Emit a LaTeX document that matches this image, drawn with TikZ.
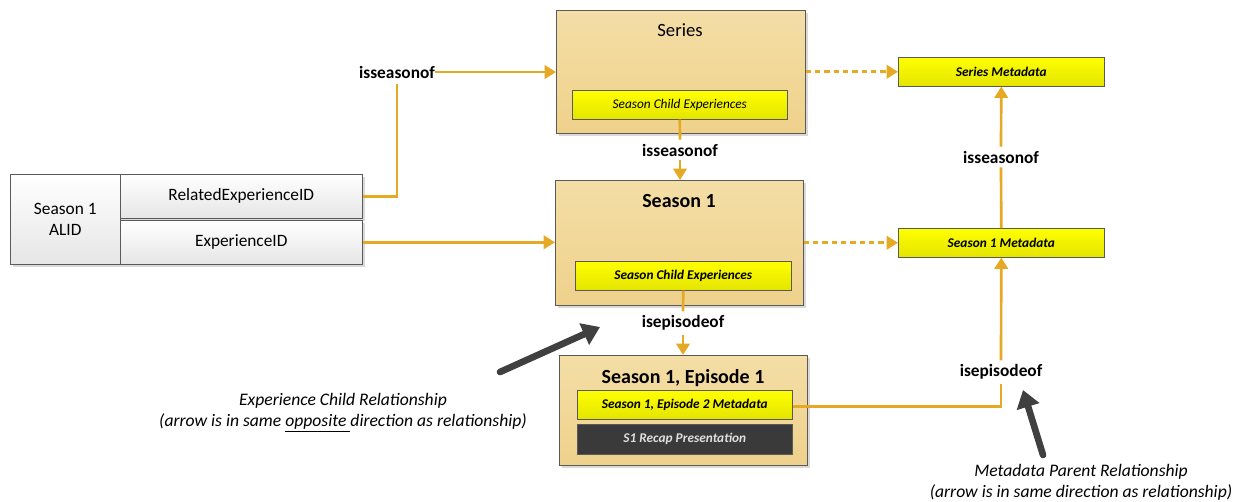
\documentclass[tikz,border=0pt]{standalone}
\usepackage{fontspec}
\setmainfont{Carlito}
\usetikzlibrary{arrows.meta,shadows,positioning}
\definecolor{linegold}{HTML}{E6A923}
\definecolor{tantop}{HTML}{F4DEA6}
\definecolor{tanbot}{HTML}{EFD18B}
\definecolor{yeltop}{HTML}{FFFF00}
\definecolor{yelbot}{HTML}{E4E400}
\definecolor{boxline}{HTML}{5A5A5A}
\definecolor{darkfill}{HTML}{3A3A3A}
\definecolor{pointer}{HTML}{404040}
\newcommand{\pxu}{0.75pt}
\newcommand{\fsz}[1]{\fontsize{#1}{1.2\dimexpr #1pt\relax}\selectfont}

\tikzset{
  boxshadow/.style={drop shadow={shadow xshift=2pt,shadow yshift=-2pt,fill=black!25,opacity=.6}},
  idbox/.style={draw=boxline,top color=white,bottom color=black!10,anchor=north west,font=\fsz{13},boxshadow},
  tanbox/.style={draw=boxline,top color=tantop,bottom color=tanbot,anchor=north west,boxshadow},
  childbox/.style={draw=boxline,top color=yeltop,bottom color=yelbot,anchor=north west,font=\fsz{10}\itshape},
  metabox/.style={childbox,font=\fsz{10}\bfseries\itshape},
  darkbox/.style={draw=boxline,fill=darkfill,text=black!12,anchor=north west,font=\fsz{10}\bfseries\itshape},
  title/.style={font=\fsz{14}},
  boldtitle/.style={font=\fsz{15}\bfseries},
  rel/.style={font=\fsz{13}\bfseries},
  note/.style={align=center,font=\fsz{13.2}\itshape},
  flow/.style={draw=linegold,line width=2pt},
  tipgold/.style={-{Triangle[length=8.5pt,width=10pt]}},
  dashflow/.style={flow,dash pattern=on 4pt off 3pt,tipgold},
  bigarrow/.style={draw=pointer,line width=5pt,line cap=round,-{Triangle[length=13pt,width=17pt]}}
}

\begin{document}
\begin{tikzpicture}[x=0.75pt,y=-0.75pt,inner sep=0pt]
\useasboundingbox (0,0) rectangle (1244,501);

% left id block
\node[idbox,minimum width=110*\pxu,minimum height=90*\pxu,align=center] (alid) at (10,174) {Season 1\\ALID};
\node[idbox,minimum width=242*\pxu,minimum height=44*\pxu] (relid) at (120,174) {RelatedExperienceID};
\node[idbox,minimum width=242*\pxu,minimum height=44*\pxu] (expid) at (120,220) {ExperienceID};

% experiences
\node[tanbox,minimum width=249*\pxu,minimum height=123*\pxu] (series) at (556,10) {};
\node[title] (seriestitle) at (680,30) {Series};
\node[childbox,minimum width=215*\pxu,minimum height=29*\pxu] (serieschild) at (572,90) {Season Child Experiences};

\node[tanbox,minimum width=248*\pxu,minimum height=125*\pxu] (season) at (555,180) {};
\node[boldtitle] (seasontitle) at (679,201) {Season 1};
\node[metabox,minimum width=216*\pxu,minimum height=29*\pxu] (seasonchild) at (575,261) {Season Child Experiences};

\node[tanbox,minimum width=248*\pxu,minimum height=110*\pxu] (episode) at (559,355) {};
\node[boldtitle] (episodetitle) at (683,378) {Season 1, Episode 1};
\node[metabox,minimum width=215*\pxu,minimum height=29*\pxu] (episodemeta) at (577,390) {Season 1, Episode 2 Metadata};
\node[darkbox,minimum width=215*\pxu,minimum height=30*\pxu] (recap) at (577,424) {S1 Recap Presentation};

% metadata
\node[metabox,minimum width=206*\pxu,minimum height=29*\pxu] (seriesmeta) at (898,57) {Series Metadata};
\node[metabox,minimum width=206*\pxu,minimum height=29*\pxu] (seasonmeta) at (898,228) {Season 1 Metadata};

% relationships
\node[rel] (isseasonA) at (397,72) {isseasonof};
\draw[flow] (relid.east) -| ([yshift=-4pt]isseasonA.south);
\draw[flow,tipgold] (isseasonA.east) -- (isseasonA.east -| series.west);
\draw[flow,tipgold] (expid.east) -- (expid.east -| season.west);

\node[rel] (isseasonB) at (680,150) {isseasonof};
\draw[flow] (serieschild.south) -- ([yshift=3pt]isseasonB.north);
\draw[flow,tipgold] ([yshift=-3pt]isseasonB.south) -- (isseasonB.south |- season.north);

\node[rel] (isepisodeA) at (683,323) {isepisodeof};
\draw[flow] (seasonchild.south) -- ([yshift=3pt]isepisodeA.north);
\draw[flow,tipgold] ([yshift=-3pt]isepisodeA.south) -- (isepisodeA.south |- episode.north);

\draw[dashflow] (series.east |- seriesmeta.west) -- (seriesmeta.west);
\draw[dashflow] (season.east |- seasonmeta.west) -- (seasonmeta.west);

\node[rel] (isseasonC) at (1001,157) {isseasonof};
\draw[flow] (seasonmeta.north) -- ([yshift=-3pt]isseasonC.south);
\draw[flow,tipgold] ([yshift=3pt]isseasonC.north) -- (seriesmeta.south);

\node[rel] (isepisodeB) at (1001,372) {isepisodeof};
\draw[flow] ([yshift=-1.5pt]episodemeta.east) -| ([yshift=-3pt]isepisodeB.south);
\draw[flow,tipgold] ([yshift=3pt]isepisodeB.north) -- (seasonmeta.south);

% notes
\coordinate (childtail) at (500,372);
\coordinate (childtip) at (600,327);
\draw[bigarrow] (childtail) -- (childtip);
\node[note] (childnote) at (343,413) {Experience Child Relationship\\(arrow is in same \underline{opposite }direction as relationship)};

\coordinate (parenttail) at (1043,455);
\coordinate (parenttip) at (1023,390);
\draw[bigarrow] (parenttail) -- (parenttip);
\node[note] (parentnote) at (1081,482) {Metadata Parent Relationship\\(arrow is in same direction as relationship)};
\end{tikzpicture}
\end{document}
